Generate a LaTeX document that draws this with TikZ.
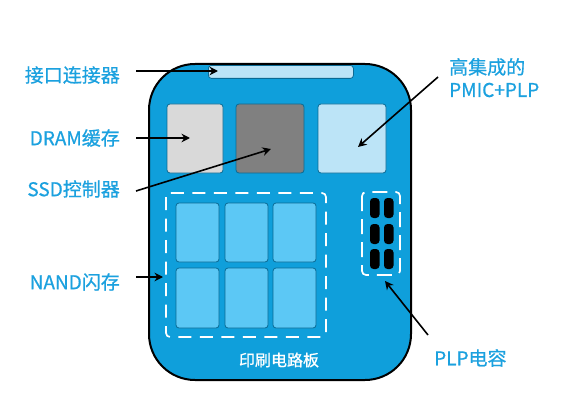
\documentclass[tikz,border=0pt]{standalone}
\usepackage{fontspec}
\setmainfont[FakeBold=0.7]{Noto Sans CJK SC}
\usetikzlibrary{arrows.meta}
\definecolor{pcb}{HTML}{0F9FDB}
\definecolor{lbl}{HTML}{1BA1DF}
\definecolor{edgec}{HTML}{0B6A94}
\definecolor{lightb}{HTML}{BCE4F7}
\definecolor{cellb}{HTML}{5CC8F5}
\definecolor{dramg}{HTML}{D9D9D9}
\definecolor{ctrlg}{HTML}{808080}
\tikzset{
  chip/.style={draw=edgec,line width=.8pt,rounded corners=3pt},
  cell/.style={chip,fill=cellb},
  capcell/.style={fill=black,rounded corners=3.5pt},
  dashbox/.style={draw=white,line width=1.7pt,rounded corners=4pt},
  lab/.style={text=lbl,font=\fontsize{19}{23}\selectfont,inner sep=0pt},
  lead/.style={draw=black,line width=1.6pt,-{Stealth[length=8.5pt,width=8.5pt]}},
}
\begin{document}
\begin{tikzpicture}[x=1pt,y=-1pt]
\useasboundingbox (0,0) rectangle (579,420);
\fill[white] (0,0) rectangle (579,420);
\draw[fill=pcb,draw=black,line width=2pt,rounded corners=46pt] (149,64) rectangle (411,380);
\node[chip,fill=lightb,rounded corners=3pt,minimum width=145pt,minimum height=13pt,inner sep=0pt,anchor=north west] (conn) at (208,65) {};
\draw[black,line width=2pt] (208,64) -- (353,64);
\draw[chip,fill=dramg] (167,104) rectangle (223,173);
\draw[chip,fill=ctrlg] (236,104) rectangle (304,173);
\draw[chip,fill=lightb] (318,104) rectangle (386,173);
\foreach \x/\w in {176/43,225/43,273/43}{
  \draw[cell] (\x,203) rectangle ++(\w,59);
  \draw[cell] (\x,268) rectangle ++(\w,60);
}
\draw[dashbox,dash pattern=on 13pt off 8.5pt] (166,193) rectangle (326,337);
\draw[dashbox,dash pattern=on 15pt off 8pt] (362,192) rectangle (400,275);
\foreach \x in {370,384}{
  \foreach \y in {198,224,249}{
    \fill[capcell] (\x,\y) rectangle ++(9.5,20);
  }
}
\node[text=white,font=\fontsize{16}{19}\selectfont,inner sep=0pt] (pcbl) at (279,360) {印刷电路板};
\node[lab,anchor=east] (l1) at (120,75) {接口连接器};
\node[lab,anchor=east] (l2) at (120,138) {DRAM缓存};
\node[lab,anchor=east] (l3) at (120,189) {SSD控制器};
\node[lab,anchor=east] (l4) at (120,282) {NAND闪存};
\node[lab,anchor=west] (l5) at (449,67) {高集成的};
\node[lab,anchor=west] (l6) at (449,90) {PMIC+PLP};
\node[lab,anchor=west] (l7) at (434,358) {PLP电容};
\coordinate (s1) at (136,71); \coordinate (t1) at (218,71);
\coordinate (s2) at (136,138); \coordinate (t2) at (190,138);
\coordinate (s3) at (136,191); \coordinate (t3) at (271,149);
\coordinate (s4) at (136,277); \coordinate (t4) at (163,277);
\coordinate (s5) at (438,77); \coordinate (t5) at (358,147);
\coordinate (s6) at (428,335); \coordinate (t6) at (385,281);
\foreach \i in {1,...,6}{\draw[lead] (s\i) -- (t\i);}
\end{tikzpicture}
\end{document}
